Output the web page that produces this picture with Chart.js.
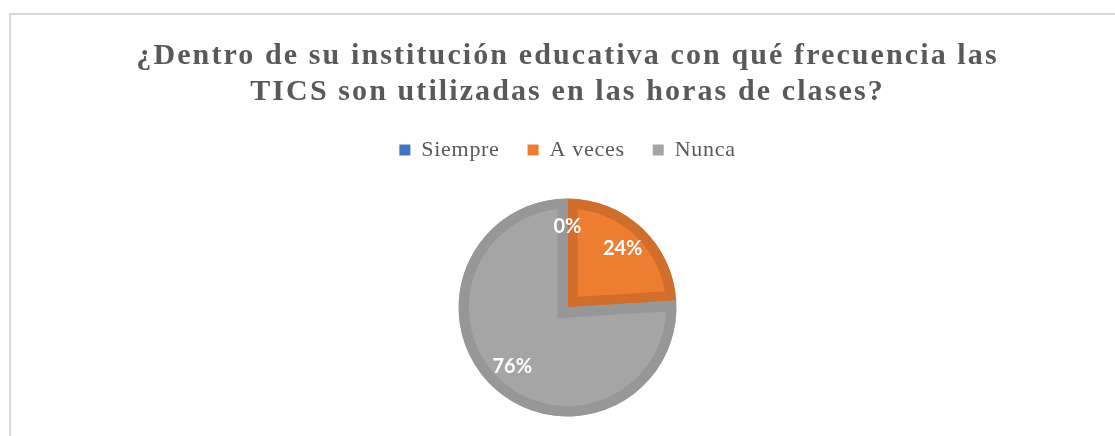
<!DOCTYPE html>
<html lang="es">
<head>
  <meta charset="UTF-8" />
  <title>Frecuencia de uso de las TICS</title>
  <script src="https://cdn.jsdelivr.net/npm/chart.js"></script>
  <style>
    html, body { margin: 0; padding: 0; background: #fff; overflow: hidden; width: 1115px; height: 436px; }
    #frame { position: absolute; left: 9px; top: 13px; width: 1200px; height: 500px; border-left: 2px solid #d9d9d9; border-top: 2px solid #d9d9d9; }
    #box { position: absolute; left: 10px; top: 14px; width: 1115px; height: 430px; }
  </style>
</head>
<body>
  <div id="frame"></div>
  <div id="box"><canvas id="chart"></canvas></div>

  <script>
    const categories = ['Siempre', 'A veces', 'Nunca'];
    const percentValues = [0, 24, 76];
    const sliceColors = ['#4472C4', '#ED7D31', '#A5A5A5'];
    const sliceBorders = ['#3A63AD', '#D16E2B', '#979797'];
    const titleLines = [
      '¿Dentro de su institución educativa con qué frecuencia las',
      'TICS son utilizadas en las horas de clases?'
    ];

    // Excel usa espaciado de caracteres: 2px en el título, menos en la leyenda
    const legendSpacing = '0.7px';
    const titleSpacing = '2.1px';
    const spacing = {
      id: 'spacing',
      beforeUpdate(chart) { chart.ctx.letterSpacing = legendSpacing; },
      beforeDraw(chart) {
        chart.ctx.letterSpacing = legendSpacing;
        const t = chart.titleBlock;
        if (t && !t._spaced) {
          const draw = t.draw;
          t.draw = function () {
            this.ctx.letterSpacing = titleSpacing;
            draw.apply(this, arguments);
            this.ctx.letterSpacing = legendSpacing;
          };
          t._spaced = true;
        }
      }
    };

    // etiquetas de porcentaje dentro de cada sector
    const sliceLabels = {
      id: 'sliceLabels',
      afterDatasetsDraw(chart) {
        const ctx = chart.ctx;
        const meta = chart.getDatasetMeta(0);
        const values = chart.data.datasets[0].data;
        const total = values.reduce((s, v) => s + v, 0);
        ctx.save();
        ctx.letterSpacing = '0px';
        ctx.font = 'bold 20px Lato';
        ctx.fillStyle = '#ffffff';
        ctx.textAlign = 'center';
        ctx.textBaseline = 'middle';
        meta.data.forEach((arc, i) => {
          const p = arc.getProps(['x', 'y', 'startAngle', 'endAngle', 'outerRadius'], true);
          const mid = (p.startAngle + p.endAngle) / 2;
          const r = p.outerRadius * 0.74;
          const pct = Math.round(values[i] / total * 100);
          ctx.fillText(pct + '%', p.x + Math.cos(mid) * r, p.y + Math.sin(mid) * r);
        });
        ctx.restore();
      }
    };

    const defaultLabels = Chart.overrides.doughnut.plugins.legend.labels.generateLabels;

    new Chart(document.getElementById('chart'), {
      type: 'pie',
      data: {
        labels: categories,
        datasets: [{
          data: percentValues,
          backgroundColor: sliceColors,
          borderColor: sliceBorders,
          borderWidth: 10,
          borderAlign: 'inner',
          borderJoinStyle: 'miter',
          radius: 109
        }]
      },
      options: {
        responsive: true,
        maintainAspectRatio: false,
        animation: false,
        layout: { padding: 0 },
        plugins: {
          title: {
            display: true,
            text: titleLines,
            color: '#595959',
            font: { family: 'Liberation Serif', size: 30, weight: 'bold', lineHeight: 1.2 },
            padding: { top: 24, bottom: 1 }
          },
          legend: {
            position: 'top',
            labels: {
              color: '#595959',
              font: { family: 'Liberation Serif', size: 22 },
              boxWidth: 11,
              boxHeight: 11,
              padding: 28,
              generateLabels(chart) {
                return defaultLabels(chart).map(l => Object.assign(l, { lineWidth: 0 }));
              }
            }
          },
          tooltip: { enabled: false }
        }
      },
      plugins: [spacing, sliceLabels]
    });
  </script>
</body>
</html>
